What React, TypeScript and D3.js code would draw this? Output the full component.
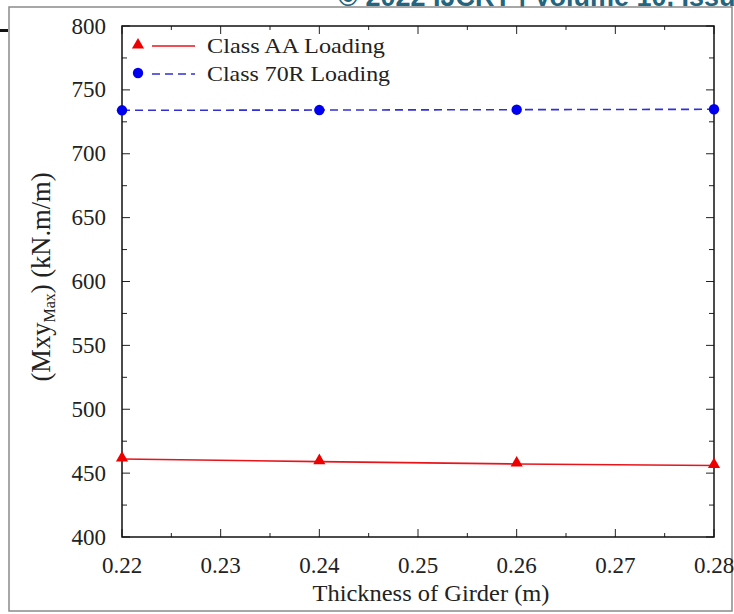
import React from "react";
import * as d3 from "d3";

const thickness = [0.22, 0.24, 0.26, 0.28];
const classAA = [461, 459, 457.2, 456];
const class70R = [734, 734.2, 734.5, 734.8];
const xTicks = [0.22, 0.23, 0.24, 0.25, 0.26, 0.27, 0.28];
const yTicks = [400, 450, 500, 550, 600, 650, 700, 750, 800];

const W = 734;
const H = 614;
const left = 122;
const right = 714;
const top = 26;
const bottom = 537;
const SERIF = "'Liberation Serif', 'Times New Roman', serif";

export default function App() {
  const x = d3.scaleLinear().domain([0.22, 0.28]).range([left, right]);
  const y = d3.scaleLinear().domain([400, 800]).range([bottom, top]);
  const xMinor = d3.range(0.22, 0.2801, 0.005);
  const yMinor = d3.range(400, 801, 25);
  const lineGen = d3
    .line<number>()
    .x((_, i) => x(thickness[i]))
    .y((d) => y(d));
  const tri = d3.symbol().type(d3.symbolTriangle).size(64)();
  const circ = d3.symbol().type(d3.symbolCircle).size(85)();

  return (
    <svg
      width={W}
      height={H}
      style={{ position: "absolute", left: 0, top: 0, background: "#fff" }}
    >
      <text
        x={338}
        y={6}
        fontFamily="'Liberation Sans', Arial, sans-serif"
        fontWeight="bold"
        fontSize={27}
        fill="#23647f"
      >
        © 2022 IJCRT | Volume 10, Issue
      </text>
      <rect x={9} y={7} width={723} height={604} fill="#fff" stroke="#8a8a8a" strokeWidth={1.5} />
      <rect x={0} y={29} width={8} height={3} fill="#111" />

      {/* ticks */}
      {xMinor.map((t, i) => {
        const major = i % 2 === 0;
        const len = major ? 8 : 4;
        return (
          <g key={"xt" + i} stroke="#222" strokeWidth={1}>
            <line x1={x(t)} x2={x(t)} y1={bottom} y2={bottom - len} />
            <line x1={x(t)} x2={x(t)} y1={top} y2={top + len} />
          </g>
        );
      })}
      {yMinor.map((t, i) => {
        const major = i % 2 === 0;
        const len = major ? 8 : 5;
        return (
          <g key={"yt" + i} stroke="#222" strokeWidth={1}>
            <line x1={left} x2={left + len} y1={y(t)} y2={y(t)} />
            <line x1={right} x2={right - len} y1={y(t)} y2={y(t)} />
          </g>
        );
      })}
      <rect
        x={left}
        y={top}
        width={right - left}
        height={bottom - top}
        fill="none"
        stroke="#111"
        strokeWidth={1.5}
      />

      {/* tick labels */}
      {xTicks.map((t) => (
        <text
          key={"xl" + t}
          x={x(t)}
          y={573}
          textAnchor="middle"
          fontFamily={SERIF}
          fontSize={23}
          fill="#222"
        >
          {t.toFixed(2)}
        </text>
      ))}
      {yTicks.map((t) => (
        <text
          key={"yl" + t}
          x={106}
          y={y(t) + 7.5}
          textAnchor="end"
          fontFamily={SERIF}
          fontSize={23}
          fill="#222"
        >
          {t}
        </text>
      ))}

      <text
        x={431}
        y={601}
        textAnchor="middle"
        fontFamily={SERIF}
        fontSize={23}
        textLength={237}
        lengthAdjust="spacingAndGlyphs"
        fill="#222"
      >
        Thickness of Girder (m)
      </text>
      <text
        transform={`translate(50, 277) rotate(-90)`}
        textAnchor="middle"
        fontFamily={SERIF}
        fontSize={26.5}
        fill="#222"
      >
        (Mxy
        <tspan fontSize={16} dy={5}>
          Max
        </tspan>
        <tspan dy={-5}>) (kN.m/m)</tspan>
      </text>

      {/* series */}
      <path d={lineGen(classAA) || ""} fill="none" stroke="#e8141c" strokeWidth={1.6} />
      <path
        d={lineGen(class70R) || ""}
        fill="none"
        stroke="#3030d8"
        strokeWidth={1.6}
        strokeDasharray="8,5"
      />
      {classAA.map((v, i) => (
        <path key={"a" + i} d={tri || ""} transform={`translate(${x(thickness[i])},${y(v) - 1})`} fill="#ee0000" />
      ))}
      {class70R.map((v, i) => (
        <path key={"b" + i} d={circ || ""} transform={`translate(${x(thickness[i])},${y(v)})`} fill="#0000f0" />
      ))}

      {/* legend */}
      <path d={tri || ""} transform="translate(138,45)" fill="#ee0000" />
      <line x1={152} x2={195} y1={46} y2={46} stroke="#e8141c" strokeWidth={1.6} />
      <text
        x={207}
        y={53}
        fontFamily={SERIF}
        fontSize={21}
        textLength={178}
        lengthAdjust="spacingAndGlyphs"
        fill="#222"
      >
        Class AA Loading
      </text>
      <path d={circ || ""} transform="translate(138,73)" fill="#0000f0" />
      <line
        x1={152}
        x2={195}
        y1={74}
        y2={74}
        stroke="#3030d8"
        strokeWidth={1.6}
        strokeDasharray="8,5"
      />
      <text
        x={207}
        y={81}
        fontFamily={SERIF}
        fontSize={21}
        textLength={183}
        lengthAdjust="spacingAndGlyphs"
        fill="#222"
      >
        Class 70R Loading
      </text>
    </svg>
  );
}
